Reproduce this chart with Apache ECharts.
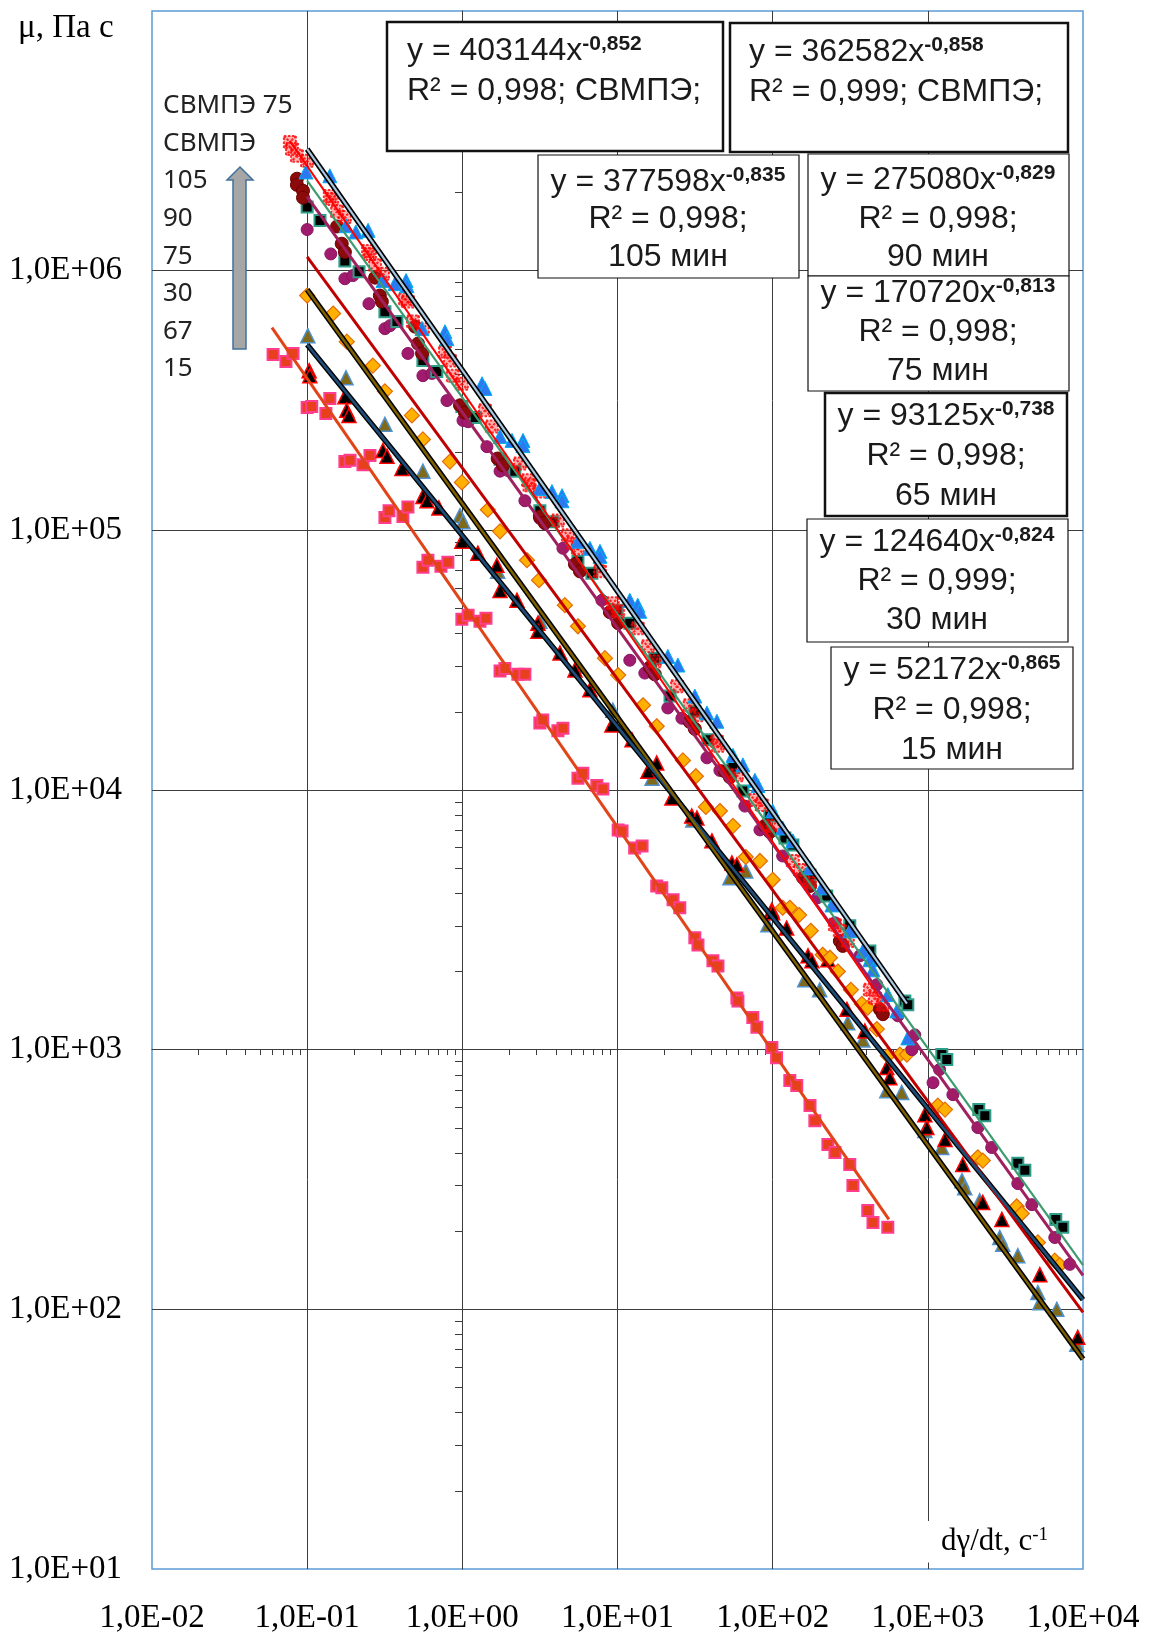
<!DOCTYPE html>
<html><head><meta charset="utf-8">
<script src="https://cdn.jsdelivr.net/npm/echarts@6/dist/echarts.min.js"></script>
<style>html,body{margin:0;padding:0;background:#fff}#c{width:1156px;height:1635px}</style>
</head><body><div id="c"></div>
<script>
// ---- tick labels ----
const xTickLabels = ['1,0E-02','1,0E-01','1,0E+00','1,0E+01','1,0E+02','1,0E+03','1,0E+04'];
const yTickLabels = ['1,0E+01','1,0E+02','1,0E+03','1,0E+04','1,0E+05','1,0E+06',''];
const legendLines = ['СВМПЭ 75','СВМПЭ','105','90','75','30','67','15'];

// ---- scatter data (shear rate, viscosity) ----
const blueTri = [[0.0982,2.40e6],[0.140,2.32e6],[0.178,1.49e6],[0.206,1.41e6],[0.247,1.43e6],[0.308,9.16e5],[0.368,8.91e5],[0.434,9.16e5],[0.44,8.75e5],[0.550,5.98e5],[0.773,5.82e5],[0.796,5.47e5],[1.34,3.67e5],[1.40,3.52e5],[1.75,2.30e5],[2.09,2.22e5],[2.46,2.22e5],[2.46,2.12e5],[3.16,1.45e5],[3.78,1.41e5],[4.39,1.36e5],[4.39,1.30e5],[5.56,9.08e4],[6.64,8.53e4],[7.71,8.30e4],[7.71,7.94e4],[12.0,5.38e4],[13.5,5.15e4],[13.9,4.88e4],[21.1,3.27e4],[24.5,3.03e4],[31.5,2.30e4],[37.7,1.98e4],[43.7,1.84e4],[55.5,1.36e4],[64.3,1.25e4],[76.8,1.09e4],[80.4,1.04e4],[100,8.30e3],[116,7.14e3],[135,6.37e3],[174,5.01e3],[207,4.20e3],[241,3.61e3],[314,2.87e3],[381,2.40e3],[423,2.22e3],[443,2.03e3],[552,1.63e3],[631,1.41e3],[743,1.11e3]];
const redStar = [[0.0774,3.13e6],[0.0798,2.94e6],[0.0859,2.77e6],[0.0998,2.65e6],[0.140,1.94e6],[0.145,1.89e6],[0.156,1.69e6],[0.175,1.61e6],[0.247,1.19e6],[0.254,1.16e6],[0.274,1.05e6],[0.308,9.73e5],[0.427,7.80e5],[0.446,7.60e5],[0.481,6.37e5],[0.557,5.98e5],[0.773,4.88e5],[0.832,4.51e5],[0.869,3.94e5],[0.993,3.67e5],[1.40,2.90e5],[1.55,2.51e5],[2.35,1.81e5],[2.65,1.56e5],[2.71,1.49e5],[3.16,1.41e5],[4.13,1.09e5],[4.79,9.57e4],[5.16,8.91e4],[5.56,8.53e4],[7.71,6.95e4],[9.33,5.24e4],[10.1,4.88e4],[13.5,4.20e4],[15.7,3.58e4],[17.4,3.13e4],[24.2,2.51e4],[29.2,2.12e4],[32.5,1.94e4],[43.7,1.54e4],[44.4,1.48e4],[58.8,1.14e4],[76.8,9.16e3],[85.1,8.75e3],[100,7.28e3],[135,5.33e3],[150,4.92e3],[174,4.39e3],[252,3.03e3],[271,2.87e3],[305,2.62e3],[423,1.70e3],[456,1.58e3],[513,1.49e3]];
const maroonCirc = [[0.0859,2.26e6],[0.0859,2.14e6],[0.0940,2.03e6],[0.0940,1.91e6],[0.156,1.48e6],[0.167,1.27e6],[0.175,1.18e6],[0.274,9.40e5],[0.294,8.02e5],[0.303,7.60e5],[0.496,6.09e5],[0.518,5.24e5],[0.550,4.80e5],[0.966,3.03e5],[1.04,2.84e5],[1.69,1.89e5],[1.83,1.78e5],[3.16,1.13e5],[3.40,1.07e5],[5.32,7.40e4],[5.73,6.95e4],[8.93,4.84e4],[10.1,4.39e4],[16.2,2.97e4],[17.4,2.79e4],[29.2,1.83e4],[31.5,1.72e4],[49.2,1.18e4],[53.0,1.12e4],[89.1,7.28e3],[95.9,6.89e3],[157,4.59e3],[174,4.27e3],[271,2.62e3],[283,2.51e3],[491,1.43e3],[513,1.37e3]];
const tealSq = [[0.1,1.76e6],[0.121,1.56e6],[0.175,1.09e6],[0.216,9.91e5],[0.317,6.95e5],[0.379,6.37e5],[0.557,4.51e5],[0.685,4.09e5],[0.993,3.00e5],[1.21,2.72e5],[1.75,1.88e5],[2.18,1.69e5],[3.16,1.19e5],[3.84,1.08e5],[5.56,7.60e4],[6.84,6.84e4],[9.91,4.92e4],[12.0,4.39e4],[17.4,3.22e4],[21.8,2.30e4],[31.5,2.01e4],[38.2,1.56e4],[55.5,1.22e4],[64.3,9.91e3],[95.9,7.94e3],[120,6.53e3],[135,6.14e3],[174,4.71e3],[223,3.91e3],[314,3.00e3],[423,2.40e3],[711,1.54e3],[743,1.49e3],[1230,957],[1325,916],[2130,588],[2330,557],[3800,365],[4220,343],[6680,222],[7410,207]];
const purpleCirc = [[0.1,1.44e6],[0.142,1.16e6],[0.175,9.31e5],[0.197,9.57e5],[0.250,7.46e5],[0.317,5.98e5],[0.342,6.14e5],[0.446,4.80e5],[0.557,3.94e5],[0.637,4.02e5],[0.796,3.16e5],[1.01,2.65e5],[1.09,2.62e5],[1.44,2.10e5],[1.75,1.69e5],[1.97,1.70e5],[2.53,1.30e5],[3.16,1.11e5],[3.40,1.06e5],[4.45,8.53e4],[5.73,7.02e4],[7.93,5.38e4],[12.0,3.16e4],[15.0,2.82e4],[16.9,2.82e4],[21.1,2.07e4],[26.0,1.89e4],[37.7,1.33e4],[45.7,1.19e4],[66.2,8.67e3],[82.8,7.02e3],[116,5.57e3],[195,3.85e3],[252,3.08e3],[365,2.30e3],[469,1.78e3],[641,1.35e3],[824,1.14e3],[789,1000],[1190,838],[1080,746],[1450,671],[2100,501],[2580,420],[3800,305],[4680,253],[6580,189],[8220,149]];
const orangeDia = [[0.1,8.02e5],[0.147,6.84e5],[0.180,5.33e5],[0.265,4.31e5],[0.317,3.43e5],[0.473,2.77e5],[0.557,2.24e5],[0.832,1.84e5],[0.993,1.53e5],[1.46,1.20e5],[1.75,9.91e4],[2.61,7.67e4],[3.12,6.43e4],[4.58,5.15e4],[5.56,4.27e4],[8.30,3.22e4],[10.1,2.77e4],[14.6,2.12e4],[17.9,1.76e4],[26.4,1.30e4],[32.0,1.13e4],[37.1,8.61e3],[45.7,8.30e3],[55.5,7.28e3],[67.1,5.52e3],[82.8,5.33e3],[100,4.51e3],[116,3.52e3],[129,3.52e3],[148,3.30e3],[176,2.87e3],[210,2.32e3],[234,2.26e3],[263,2.00e3],[319,1.70e3],[376,1.50e3],[410,1.45e3],[469,1.20e3],[552,948],[661,957],[733,957],[1160,609],[1290,588],[2100,385],[2260,374],[3740,249],[4030,234],[5120,181],[6580,154],[7090,148]];
const blackTri = [[0.103,4.12e5],[0.104,3.94e5],[0.175,3.27e5],[0.180,2.90e5],[0.186,2.77e5],[0.308,2.03e5],[0.327,1.93e5],[0.408,1.73e5],[0.557,1.35e5],[0.592,1.30e5],[0.706,1.22e5],[0.993,9.08e4],[1.26,8.17e4],[1.67,7.33e4],[1.75,5.87e4],[2.25,5.38e4],[3.07,4.39e4],[3.07,4.09e4],[4.26,3.37e4],[5.32,2.90e4],[6.64,2.43e4],[9.20,1.78e4],[12.4,1.56e4],[15.7,1.18e4],[17.9,1.27e4],[22.4,9.31e3],[30.1,7.94e3],[32.5,7.80e3],[40.6,6.37e3],[54.6,5.24e3],[58.8,5.15e3],[98.8,3.45e3],[100,3.37e3],[123,2.94e3],[169,2.30e3],[179,2.20e3],[227,2.22e3],[301,1.43e3],[393,1.18e3],[544,853],[569,780],[957,562],[986,501],[1290,451],[1680,361],[2260,258],[3000,222],[5270,136],[9250,78.0]];
const oliveTri = [[0.101,5.62e5],[0.178,3.87e5],[0.317,2.56e5],[0.557,1.69e5],[0.966,1.14e5],[1.01,1.08e5],[1.69,6.95e4],[3.16,4.47e4],[5.47,3.00e4],[9.33,2.03e4],[16.7,1.11e4],[30.6,7.67e3],[53.0,4.59e3],[67.1,4.88e3],[93.1,3.03e3],[161,1.86e3],[201,1.70e3],[305,1.27e3],[381,1.09e3],[544,695],[679,684],[957,488],[1230,420],[1660,313],[1730,294],[2160,262],[2910,189],[3040,178],[3800,161],[5120,116],[5270,106],[6780,100],[9120,73.3]];
const pinkSq = [[0.0603,4.75e5],[0.0730,4.47e5],[0.0811,4.80e5],[0.1,2.97e5],[0.107,3.00e5],[0.132,2.82e5],[0.140,3.22e5],[0.175,1.84e5],[0.189,1.86e5],[0.229,1.79e5],[0.254,1.94e5],[0.317,1.12e5],[0.337,1.19e5],[0.414,1.13e5],[0.446,1.23e5],[0.557,7.21e4],[0.600,7.67e4],[0.728,7.28e4],[0.807,7.53e4],[0.993,4.55e4],[1.09,4.71e4],[1.30,4.47e4],[1.42,4.59e4],[1.75,2.87e4],[1.88,2.94e4],[2.28,2.79e4],[2.53,2.79e4],[3.16,1.81e4],[3.30,1.86e4],[4.13,1.69e4],[4.45,1.73e4],[5.56,1.11e4],[5.98,1.16e4],[7.36,1.04e4],[8.05,1.01e4],[10.1,7.02e3],[10.7,6.95e3],[12.9,5.98e3],[14.4,6.09e3],[17.9,4.27e3],[19.3,4.20e3],[22.8,3.78e3],[25.2,3.52e3],[31.5,2.70e3],[33.0,2.53e3],[41.2,2.20e3],[44.4,2.10e3],[58.8,1.58e3],[59.7,1.54e3],[74.5,1.33e3],[79.1,1.22e3],[98.8,1.02e3],[106,931],[129,760],[143,728],[174,609],[187,533],[227,431],[252,402],[314,361],[329,300],[410,240],[443,216],[552,207]];

// ---- trend lines (end points) ----
const trendSVMPE1 = [[0.1,2.94e6],[733,1503]];
const trendSVMPE2 = [[0.0774,3.16e6],[491,1585]];
const trend105 = [[0.1,2.22e6],[10000,148]];
const trend90 = [[0.1,1.93e6],[10000,135]];
const trend75 = [[0.1,1.13e6],[10000,97.3]];
const trend30 = [[0.1,8.45e5],[10000,64.3]];
const trend65 = [[0.1,5.19e5],[10000,109]];
const trend15 = [[0.0593,6.04e5],[561,222]];

// ---- equation boxes ----
const boxes = [
  {x:387,y:22,w:336,h:129,bw:2.5,align:'left',tx:407,ty:31,lh:40,coef:'403144',exp:'-0,852',r2:'R² = 0,998; СВМПЭ;',tag:null},
  {x:730,y:23,w:338,h:129,bw:2.5,align:'left',tx:749,ty:32,lh:40,coef:'362582',exp:'-0,858',r2:'R² = 0,999; СВМПЭ;',tag:null},
  {x:538,y:155,w:261,h:123,bw:1.2,align:'center',tx:668,ty:163,lh:37.5,coef:'377598',exp:'-0,835',r2:'R² = 0,998;',tag:'105 мин'},
  {x:808,y:154,w:261,h:122,bw:1.2,align:'center',tx:938,ty:161,lh:38.5,coef:'275080',exp:'-0,829',r2:'R² = 0,998;',tag:'90 мин'},
  {x:808,y:276,w:261,h:115,bw:1.2,align:'center',tx:938,ty:274,lh:39,coef:'170720',exp:'-0,813',r2:'R² = 0,998;',tag:'75 мин'},
  {x:825,y:393,w:242,h:123,bw:2.5,align:'center',tx:946,ty:396,lh:40,coef:'93125',exp:'-0,738',r2:'R² = 0,998;',tag:'65 мин'},
  {x:807,y:519,w:261,h:123,bw:1.2,align:'center',tx:937,ty:523,lh:39,coef:'124640',exp:'-0,824',r2:'R² = 0,999;',tag:'30 мин'},
  {x:831,y:647,w:242,h:122,bw:1.2,align:'center',tx:952,ty:650,lh:40,coef:'52172',exp:'-0,865',r2:'R² = 0,998;',tag:'15 мин'}
];

const yMinorTicks = [];
for (let k = 1; k < 7; k++) for (let m = 2; m < 10; m++) yMinorTicks.push(+(m * Math.pow(10, k)).toPrecision(6));

const SERIF = '"Liberation Serif", "Times New Roman", serif';
const SANS = '"Liberation Sans", Arial, sans-serif';

function scatter(name, data, symbol, size, color, border, bw, extra) {
  return Object.assign({
    name, type: 'scatter', data, symbol, symbolSize: size, z: 2,
    itemStyle: {color, borderColor: border, borderWidth: bw, opacity: 1}
  }, extra || {});
}
function line(name, data, color, width, z) {
  return {name, type: 'line', data, symbol: 'none', showSymbol: false, z: z || 4, silent: true,
    lineStyle: {color, width, cap: 'butt'}};
}

const graphics = [];
boxes.forEach(b => {
  graphics.push({type: 'rect', z: 100, shape: {x: b.x, y: b.y, width: b.w, height: b.h},
    style: {fill: '#fff', stroke: '#111', lineWidth: b.bw}});
  let t = '{a|y = ' + b.coef + 'x}{s|' + b.exp + '}\n{a|' + b.r2 + '}';
  if (b.tag) t += '\n{a|' + b.tag + '}';
  graphics.push({type: 'text', z: 101, x: b.tx, y: b.ty,
    style: {text: t, align: b.align, verticalAlign: 'top',
      rich: {
        a: {fontSize: 32, fontFamily: SANS, fill: '#1a1a1a', lineHeight: b.lh, align: b.align},
        s: {fontSize: 21, fontWeight: 'bold', fontFamily: SANS, fill: '#1a1a1a', lineHeight: b.lh, padding: [0, 0, 14, 0], align: b.align}
      }}});
});
graphics.push({type: 'text', z: 101, x: 163, y: 87,
  style: {text: legendLines.join('\n'), fontSize: 26, fontFamily: '"Noto Sans", sans-serif', fill: '#222', lineHeight: 37.6}});
graphics.push({type: 'polygon', z: 101,
  shape: {points: [[240,167],[253,180],[246,180],[246,349],[233,349],[233,180],[227,180]]},
  style: {fill: '#a6a6a6', stroke: '#41719c', lineWidth: 1.5}});

const chart = echarts.init(document.getElementById('c'), null, {renderer: 'canvas'});
chart.setOption({
  animation: false,
  backgroundColor: '#fff',
  title: [
    {text: 'μ, Па с', left: 13, top: 7, textStyle: {fontFamily: SERIF, fontSize: 33, fontWeight: 'normal', color: '#000'}},
    {text: '{m|dγ/dt, с}{s|-1}', left: 921, top: 1521, backgroundColor: '#fff', padding: [5, 8, 5, 20], z: 10,
      textStyle: {fontWeight: 'normal', rich: {m: {fontFamily: SERIF, fontSize: 31, fontWeight: 'normal', color: '#000'}, s: {fontFamily: SERIF, fontSize: 19, fontWeight: 'normal', color: '#000', padding: [0, 0, 13, 0]}}}}
  ],
  grid: {left: 152, right: 73, top: 11, bottom: 63, show: true, borderColor: '#5b9bd5', borderWidth: 1.5, backgroundColor: 'transparent'},
  xAxis: [
    {type: 'log', logBase: 10, min: 0.01, max: 10000, interval: 1, position: 'bottom',
      axisLine: {show: false}, axisTick: {show: false},
      axisLabel: {margin: 33, fontFamily: SERIF, fontSize: 33, color: '#000',
        formatter: v => xTickLabels[Math.round(Math.log10(v)) + 2]},
      splitLine: {show: true, showMinLine: false, showMaxLine: false, lineStyle: {color: '#3c3c3c', width: 1}}},
    {type: 'log', logBase: 10, min: 0.01, max: 10000, interval: 1, position: 'bottom', offset: -520,
      axisLine: {show: true, lineStyle: {color: '#3c3c3c', width: 1}},
      axisTick: {show: false}, axisLabel: {show: false}, splitLine: {show: false},
      minorTick: {show: true, splitNumber: 9, length: 6, lineStyle: {color: '#3c3c3c', width: 1}}}
  ],
  yAxis: [
    {type: 'log', logBase: 10, min: 10, max: 1e7, interval: 1, position: 'left',
      axisLine: {show: false}, axisTick: {show: false},
      axisLabel: {margin: 30, fontFamily: SERIF, fontSize: 33, color: '#000',
        formatter: v => yTickLabels[Math.round(Math.log10(v)) - 1]},
      splitLine: {show: true, showMinLine: false, showMaxLine: false, lineStyle: {color: '#3c3c3c', width: 1}}},
    {type: 'log', logBase: 10, min: 10, max: 1e7, interval: 1, position: 'left', offset: -310,
      axisLine: {show: true, lineStyle: {color: '#3c3c3c', width: 1}},
      axisTick: {show: true, length: 7, customValues: yMinorTicks, lineStyle: {color: '#3c3c3c', width: 1}},
      axisLabel: {show: false}, splitLine: {show: false}}
  ],
  graphic: {elements: graphics},
  series: [
    scatter('15 мин', pinkSq, 'rect', 11, '#e8401c', '#ff3d8f', 2),
    scatter('67', oliveTri, 'triangle', 14, '#7f6a1c', '#4f91cd', 1.5),
    scatter('30 мин', blackTri, 'triangle', 14, '#000', '#ff0000', 1.5),
    scatter('65 мин', orangeDia, 'diamond', 15, '#ffb000', '#e46c0a', 1.2),
    scatter('90 мин', purpleCirc, 'circle', 12, '#a01a6e', '#8a1560', 1),
    scatter('105 мин', tealSq, 'rect', 11, '#000', '#2e9e8a', 2),
    scatter('СВМПЭ 75', maroonCirc, 'circle', 13, '#8b0a0a', '#700000', 1),
    scatter('СВМПЭ', redStar, 'path://M0 0L10 0L10 10L0 10Z M0 0L10 10 M10 0L0 10', 12, '#fff', '#ff0000', 2,
      {itemStyle: {color: 'rgba(255,40,40,0.45)', borderColor: '#ff0000', borderWidth: 2, borderType: [2.5, 1.5]}}),
    scatter('СВМПЭ ', blueTri, 'triangle', 14, '#2b78f0', '#00b0f0', 1),
    line('t15', trend15, '#e2441a', 3),
    line('t65o', trend65, '#000', 5.5), line('t65i', trend65, '#1f4e79', 2.5, 5),
    line('t30o', trend30, '#000', 5.5), line('t30i', trend30, '#7f6000', 2.5, 5),
    line('t75', trend75, '#c00000', 3),
    line('t90', trend90, '#a0205f', 3),
    line('t105', trend105, '#3d9b6f', 2.2),
    line('tS2', trendSVMPE2, '#ff0000', 2),
    line('tS1o', trendSVMPE1, '#000', 5.5, 5), line('tS1i', trendSVMPE1, '#a9c8e0', 2.2, 6)
  ]
});
</script>
</body></html>
